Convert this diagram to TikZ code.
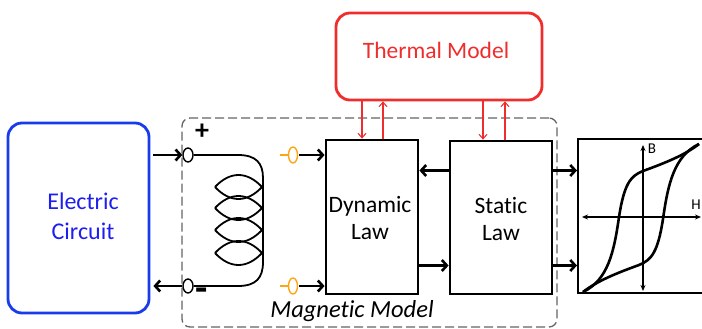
\documentclass[tikz,border=0pt]{standalone}
\usepackage{fontspec}
\setmainfont{Carlito}[Ligatures={NoCommon,NoContextual}]
\usetikzlibrary{arrows.meta,shapes.geometric}
\definecolor{ecblue}{RGB}{25,60,235}
\definecolor{ectext}{RGB}{30,30,240}
\definecolor{tred}{RGB}{240,45,45}
\definecolor{porange}{RGB}{255,165,20}
\definecolor{dashgray}{RGB}{100,100,100}
\begin{document}
\begin{tikzpicture}[x=1pt,y=-1pt,
  boxlbl/.style={font=\fontsize{23.5}{27}\selectfont, align=center, inner sep=0pt},
  ecbox/.style={draw=ecblue, line width=2.8pt, rounded corners=14pt, minimum width=141pt, minimum height=190pt, inner sep=0pt},
  thbox/.style={draw=tred, line width=2.8pt, rounded corners=14pt, minimum width=206pt, minimum height=87pt, inner sep=0pt},
  lawbox/.style={draw=black, line width=2.8pt, inner sep=0pt},
  magbox/.style={draw=dashgray, line width=1.3pt, dash pattern=on 9pt off 4pt, rounded corners=8pt, minimum width=375pt, minimum height=209pt, inner sep=0pt},
  blk/.style={line width=2.6pt, -{Straight Barb[length=5pt,width=11pt]}},
  redarr/.style={draw=tred, line width=1.1pt, -{Straight Barb[length=4.5pt,width=8pt]}},
  port/.style={draw=black, ellipse, line width=1.4pt, minimum width=10pt, minimum height=14pt, inner sep=0pt},
  oport/.style={draw=porange, ellipse, line width=1.4pt, minimum width=9pt, minimum height=16pt, inner sep=0pt},
  coil/.style={line width=1.8pt},
  axis/.style={line width=1.3pt, {Stealth[length=6pt,width=5pt]}-{Stealth[length=6pt,width=5pt]}},
  loop/.style={line width=2.6pt}
]
\useasboundingbox (0,0) rectangle (702,329);

% Magnetic model (dashed)
\node[magbox] (mag) at (369.5,222.5) {};
\node[font=\fontsize{24.5}{26}\selectfont\itshape, inner sep=0pt] (magtxt) at (352,311) {Magnetic Model};

% Electric circuit
\node[ecbox] (ec) at (78.5,218) {};
\node[boxlbl, text=ectext, font=\fontsize{24}{30}\selectfont] (ectxt) at (83,216) {Electric\\Circuit};

% Thermal model
\node[thbox] (th) at (439,56.5) {};
\node[boxlbl, text=tred] (thtxt) at (436,50) {Thermal Model};

% Dynamic and static law
\node[lawbox, minimum width=92pt, minimum height=154pt] (dyn) at (372,217) {};
\node[boxlbl] (dyntxt) at (370,218) {Dynamic\\Law};
\node[lawbox, minimum width=102pt, minimum height=153pt] (stat) at (501,217.5) {};
\node[boxlbl] (stattxt) at (501,219) {Static\\Law};

% Hysteresis box
\node[draw=black, line width=2pt, minimum width=128pt, minimum height=154pt, inner sep=0pt] (hyst) at (642,216) {};

% Ports
\node[port] (ptop) at (188,155) {};
\node[port] (pbot) at (188,286) {};
\node[font=\fontsize{28}{30}\selectfont\bfseries, inner sep=0pt] (plus) at (202,132) {+};
\node[font=\fontsize{40}{40}\selectfont\bfseries, inner sep=0pt] (minus) at (202,295) {-};

% Electric <-> ports
\draw[blk] (ec.east |- ptop) ++(3,0) coordinate (ecout) (ecout) -- (ptop.west);
\coordinate (ecin) at ([xshift=3pt]ec.east |- pbot);
\draw[blk] (pbot.west) -- (ecin);

% Coil
\draw[coil] (ptop.east) -- (238,155) .. controls (256,155) and (263,163) .. (263,178)
  -- (263,262) .. controls (263,278) and (256,286) .. (238,286) -- (pbot.east);
\foreach \yy in {187,208,230,253}{
  \draw[coil] (215,\yy) .. controls (230,\yy-16) and (247,\yy-16) .. (262,\yy)
     .. controls (247,\yy+16) and (230,\yy+16) .. (215,\yy);
}

% Orange ports
\node[oport] (otop) at (293,155) {};
\node[oport] (obot) at (293,286) {};
\coordinate (otopl) at (280,155);
\coordinate (obotl) at (280,286);
\draw[porange, line width=1.4pt] (otopl) -- (otop.west);
\draw[porange, line width=1.4pt] (obotl) -- (obot.west);
\draw[blk] ([xshift=1pt]otop.east) -- (dyn.west |- otop);
\draw[blk] ([xshift=1pt]obot.east) -- (dyn.west |- obot);

% Dynamic <-> Static
\draw[blk] ([yshift=47pt]stat.west) -- ([yshift=47pt]dyn.east |- stat.west);
\draw[blk] ([yshift=-48pt]dyn.east |- stat.west) -- ([yshift=-48pt]stat.west);

% Static -> hysteresis
\draw[blk] ([yshift=47pt]stat.east) -- ([yshift=47pt]hyst.west |- stat.east);
\draw[blk] ([yshift=-48pt]stat.east) -- ([yshift=-48pt]hyst.west |- stat.east);

% Thermal arrows
\coordinate (d1) at ([xshift=-10pt]dyn.north);
\coordinate (d2) at ([xshift=11pt]dyn.north);
\coordinate (s1) at ([xshift=-18pt]stat.north);
\coordinate (s2) at ([xshift=4pt]stat.north);
\draw[redarr] (th.south -| d1) -- (d1);
\draw[redarr] (d2) -- (th.south -| d2);
\draw[redarr] (th.south -| s1) -- (s1);
\draw[redarr] (s2) -- (th.south -| s2);

% Hysteresis content
\coordinate (vb) at (643,291);
\coordinate (vt) at (643,145);
\coordinate (hl) at (582,217);
\coordinate (hr) at (701,217);
\draw[axis] (vb) -- (vt);
\draw[axis] (hl) -- (hr);
\node[font=\fontsize{15}{16}\selectfont, inner sep=0pt] (blbl) at (652,149) {B};
\node[font=\fontsize{15}{16}\selectfont, inner sep=0pt] (hlbl) at (696,205) {H};
\coordinate (LL) at (583,292);
\coordinate (UR) at (699,144);
\draw[loop] (LL) .. controls (608,280) and (614,252) .. (619,217)
  .. controls (624,185) and (630,176) .. (643,171)
  .. controls (665,163) and (685,155) .. (UR);
\draw[loop] (UR) .. controls (674,156) and (668,184) .. (663,219)
  .. controls (658,251) and (652,260) .. (639,265)
  .. controls (617,273) and (597,281) .. (LL);
\end{tikzpicture}
\end{document}
